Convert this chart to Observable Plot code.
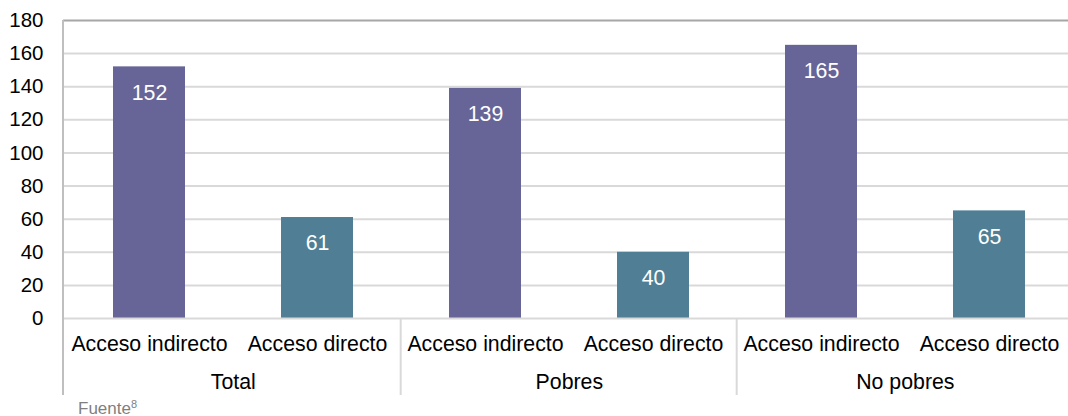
<!DOCTYPE html>
<html>
<head>
<meta charset="utf-8">
<script src="https://cdn.jsdelivr.net/npm/d3@7"></script>
<script src="https://cdn.jsdelivr.net/npm/@observablehq/plot@0.6"></script>
<style>
  html, body { margin: 0; padding: 0; background: #fff; }
  #chart svg { overflow: hidden; }
  .caption { font-family: "Liberation Sans", Arial, sans-serif; font-size: 17px; color: #7f7f7f; margin-left: 78px; line-height: 20px; margin-top: 3px; }
  .caption sup { font-size: 11px; vertical-align: 6px; line-height: 0; }
</style>
</head>
<body>
<div id="chart"></div>
<div class="caption">Fuente<sup>8</sup></div>
<script>
const groups = ["Total", "Pobres", "No pobres"];
const subs = ["Acceso indirecto", "Acceso directo"];
const indirecto = [152, 139, 165];
const directo = [61, 40, 65];
const yTicks = [0, 20, 40, 60, 80, 100, 120, 140, 160, 180];

const data = [];
groups.forEach((g, i) => {
  data.push({key: g + "|" + subs[0], group: g, sub: subs[0], value: indirecto[i]});
  data.push({key: g + "|" + subs[1], group: g, sub: subs[1], value: directo[i]});
});
const keys = data.map(d => d.key);

const W = 1068, H = 396;
const xRange = [63, 1075];
const yTop = 20, yBase = 318;
const pIn = 0.573;
const step = (xRange[1] - xRange[0]) / keys.length;
const font = "'Liberation Sans', Arial, sans-serif";

function decorations(index, scales, values, dims) {
  const g = d3.create("svg:g");
  const x = scales.x;
  const bw = step * (1 - pIn);
  const slotStart = k => x(k) + bw / 2 - step / 2;
  // left axis line
  g.append("line").attr("x1", xRange[0]).attr("x2", xRange[0])
    .attr("y1", yTop).attr("y2", H - 1)
    .attr("stroke", "#bfbfbf").attr("stroke-width", 2);
  // group dividers
  groups.forEach((grp, i) => {
    if (i === 0) return;
    const xs = slotStart(grp + "|" + subs[0]);
    g.append("line").attr("x1", xs).attr("x2", xs)
      .attr("y1", yBase).attr("y2", H - 1)
      .attr("stroke", "#d9d9d9").attr("stroke-width", 2);
  });
  // group labels
  groups.forEach(grp => {
    const cx = slotStart(grp + "|" + subs[0]) + step;
    g.append("text").attr("x", cx).attr("y", yBase + 63).attr("dy", "0.36em")
      .attr("text-anchor", "middle")
      .attr("font-size", 21.3).attr("font-family", font).attr("fill", "#000")
      .text(grp);
  });
  return g.node();
}

const chart = Plot.plot({
  width: W,
  height: H,
  marginLeft: xRange[0],
  marginRight: W - xRange[1],
  marginTop: yTop,
  marginBottom: H - yBase,
  style: {fontFamily: font, background: "#fff", overflow: "hidden"},
  x: {domain: keys, range: xRange, paddingInner: pIn, paddingOuter: pIn / 2, align: 0.5, axis: null},
  y: {domain: [0, 180], range: [yBase, yTop], axis: null},
  marks: [
    Plot.ruleY(yTicks.filter(t => t > 0 && t < 180), {stroke: "#d9d9d9", strokeWidth: 2}),
    Plot.ruleY([180], {stroke: "#a6a6a6", strokeWidth: 2}),
    Plot.barY(data, {x: "key", y: "value", fill: d => d.sub === subs[0] ? "#676597" : "#507f95"}),
    Plot.ruleY([0], {stroke: "#d9d9d9", strokeWidth: 2}),
    Plot.axisY({ticks: yTicks, tickSize: 0, tickPadding: 20, fontSize: 20.5, fill: "#000", textAnchor: "end", tickFormat: d => String(d), label: null}),
    Plot.text(data, {x: "key", y: "value", text: d => String(d.value), dy: 26, fill: "#fff", fontSize: 21.3}),
    Plot.text(data, {x: "key", frameAnchor: "bottom", dy: 26, lineAnchor: "middle", text: "sub", fill: "#000", fontSize: 21.3}),
    decorations
  ]
});
document.getElementById("chart").append(chart);
</script>
</body>
</html>
